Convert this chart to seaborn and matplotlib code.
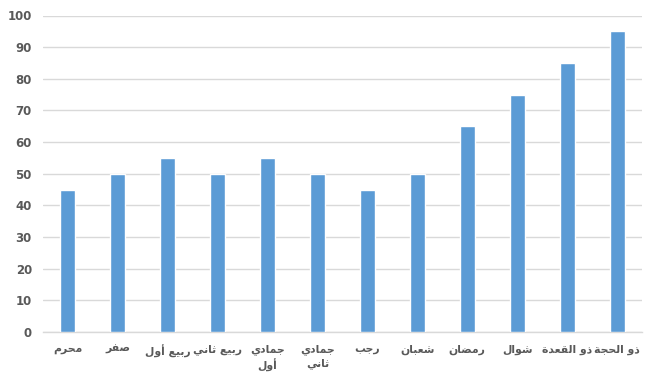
import matplotlib
matplotlib.use("Agg")
import matplotlib.pyplot as plt
import seaborn as sns
import pandas as pd

months = ["محرم", "صفر", "ربيع أول", "ربيع ثاني", "جمادي\nأول", "جمادي\nثاني",
          "رجب", "شعبان", "رمضان", "شوال", "ذو القعدة", "ذو الحجة"]
values = [45, 50, 55, 50, 55, 50, 45, 50, 65, 75, 85, 95]
y_ticks = [0, 10, 20, 30, 40, 50, 60, 70, 80, 90, 100]

# --- minimal Arabic shaping for display (matplotlib has no complex text layout) ---
_FORMS = {  # base: start of presentation forms block, number of forms
    0x0627: (0xFE8D, 2), 0x0623: (0xFE83, 2), 0x0628: (0xFE8F, 4), 0x0629: (0xFE93, 2),
    0x062A: (0xFE95, 4), 0x062B: (0xFE99, 4), 0x062C: (0xFE9D, 4), 0x062D: (0xFEA1, 4),
    0x062E: (0xFEA5, 4), 0x062F: (0xFEA9, 2), 0x0630: (0xFEAB, 2), 0x0631: (0xFEAD, 2),
    0x0632: (0xFEAF, 2), 0x0633: (0xFEB1, 4), 0x0634: (0xFEB5, 4), 0x0635: (0xFEB9, 4),
    0x0636: (0xFEBD, 4), 0x0637: (0xFEC1, 4), 0x0638: (0xFEC5, 4), 0x0639: (0xFEC9, 4),
    0x063A: (0xFECD, 4), 0x0641: (0xFED1, 4), 0x0642: (0xFED5, 4), 0x0643: (0xFED9, 4),
    0x0644: (0xFEDD, 4), 0x0645: (0xFEE1, 4), 0x0646: (0xFEE5, 4), 0x0647: (0xFEE9, 4),
    0x0648: (0xFEED, 2), 0x064A: (0xFEF1, 4),
}


def _shape_line(s):
    out = []
    for i, ch in enumerate(s):
        cp = ord(ch)
        if cp not in _FORMS:
            out.append(ch)
            continue
        start, n = _FORMS[cp]
        prev = ord(s[i - 1]) if i > 0 else None
        nxt = ord(s[i + 1]) if i + 1 < len(s) else None
        pj = prev in _FORMS and _FORMS[prev][1] == 4
        nj = nxt in _FORMS and n == 4
        if pj and nj:
            form = 3
        elif pj:
            form = 1
        elif nj:
            form = 2
        else:
            form = 0
        out.append(chr(start + form))
    return "".join(out)[::-1]


def shape(text):
    return "\n".join(_shape_line(l) for l in text.split("\n"))


sns.set_theme(style="white")
plt.rcParams["font.family"] = ["DejaVu Sans"]

df = pd.DataFrame({"month": months, "value": values})

fig = plt.figure(figsize=(6.52, 3.80), dpi=100)
ax = fig.add_axes([43 / 652, 48 / 380, 599 / 652, 316.5 / 380])

sns.barplot(data=df, x="month", y="value", color="#5B9BD5", saturation=1,
            width=0.3, ax=ax, zorder=3)

ax.set_xlim(-0.5, len(months) - 0.5)
ax.set_ylim(0, 100)
ax.set_yticks(y_ticks)
ax.yaxis.grid(True, color="#D9D9D9", linewidth=1, zorder=0)
ax.set_axisbelow(True)
for s in ["top", "right", "left"]:
    ax.spines[s].set_visible(False)
ax.spines["bottom"].set_color("#D9D9D9")
ax.spines["bottom"].set_linewidth(1)
ax.tick_params(axis="both", length=0, colors="#595959")
ax.tick_params(axis="y", pad=8, labelsize=8.5)
ax.tick_params(axis="x", pad=9, labelsize=7.8)
ax.set_xticks(range(len(months)))
ax.set_xticklabels([shape(m) for m in months], va="top", linespacing=1.35)
for lbl in ax.get_yticklabels():
    lbl.set_fontweight("bold")
for lbl in ax.get_xticklabels():
    lbl.set_fontweight("semibold")
ax.set_xlabel("")
ax.set_ylabel("")

fig.savefig("out.png", dpi=100, facecolor="white")
